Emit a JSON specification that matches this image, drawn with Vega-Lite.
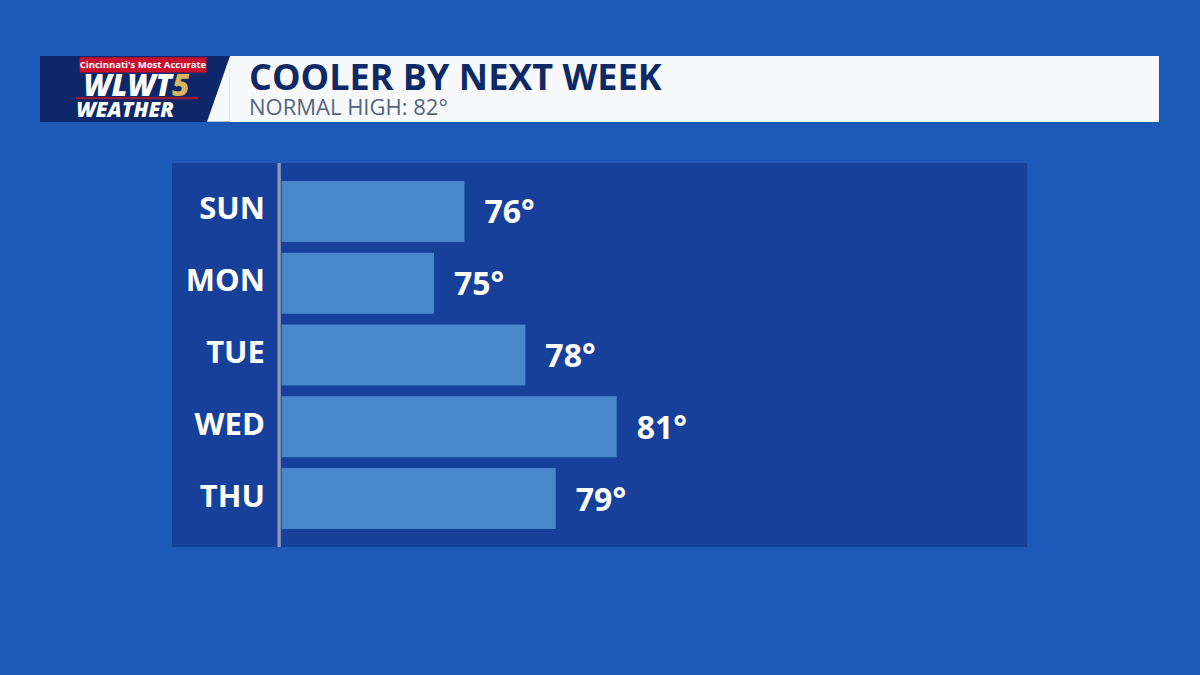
{
  "$schema": "https://vega.github.io/schema/vega-lite/v6.json",
  "background": "#1d5ab8",
  "padding": {"left": 40, "top": 56, "right": 41, "bottom": 128},
  "autosize": {"type": "pad"},
  "config": {"view": {"stroke": null}},
  "spacing": 41,
  "center": true,
  "vconcat": [
    {
      "spacing": 0,
      "hconcat": [
        {
          "width": 190,
          "height": 66,
          "view": {"fill": "#0d2768", "stroke": null},
          "data": {"values": [
            {"piece": "banner", "label": "Cincinnati's Most Accurate"},
            {"piece": "call", "label": "WLWT"},
            {"piece": "num", "label": "5"},
            {"piece": "wx", "label": "WEATHER"}
          ]},
          "layer": [
            {
              "transform": [{"filter": "datum.piece === 'banner'"}],
              "mark": {"type": "point", "filled": true, "opacity": 1, "size": 16129, "color": "#f8f9fb", "strokeWidth": 0, "shape": "M1.495,-0.515L1.495,0.515L1.134,0.515Z"},
              "encoding": {}
            },
            {
              "transform": [{"filter": "datum.piece === 'banner'"}],
              "mark": {"type": "point", "filled": true, "opacity": 1, "size": 16129, "color": "#c8102e", "strokeWidth": 0, "shape": "M-0.874,-0.5H1.126V-0.26H-0.874Z"},
              "encoding": {}
            },
            {
              "transform": [{"filter": "datum.piece === 'banner'"}],
              "mark": {"type": "point", "filled": true, "opacity": 1, "size": 16129, "color": "#9c1a30", "strokeWidth": 0, "shape": "M-0.93,0.125H1.0V0.16H-0.93Z"},
              "encoding": {}
            },
            {
              "transform": [{"filter": "datum.piece === 'banner'"}],
              "mark": {"type": "text", "font": "Open Sans", "fontWeight": "bold", "fontSize": 9.5, "fill": "white", "dx": 8, "dy": -24.5},
              "encoding": {"text": {"field": "label"}}
            },
            {
              "transform": [{"filter": "datum.piece === 'call'"}],
              "mark": {"type": "text", "font": "Open Sans", "fontWeight": 800, "fontStyle": "italic", "fontSize": 30, "fill": "white", "align": "right", "dx": 37, "dy": -2},
              "encoding": {"text": {"field": "label"}}
            },
            {
              "transform": [{"filter": "datum.piece === 'num'"}],
              "mark": {"type": "text", "font": "Open Sans", "fontWeight": 800, "fontStyle": "italic", "fontSize": 30, "fill": "#d8b562", "align": "left", "dx": 37, "dy": -2},
              "encoding": {"text": {"field": "label"}}
            },
            {
              "transform": [{"filter": "datum.piece === 'wx'"}],
              "mark": {"type": "text", "font": "Open Sans", "fontWeight": 800, "fontStyle": "italic", "fontSize": 21, "fill": "white", "dx": -10, "dy": 21.5},
              "encoding": {"text": {"field": "label"}}
            }
          ]
        },
        {
          "width": 929,
          "height": 66,
          "data": {"values": [{"part": "header"}]},
          "title": {
            "text": "COOLER BY NEXT WEEK",
            "subtitle": "NORMAL HIGH: 82°",
            "anchor": "start",
            "frame": "group",
            "orient": "top",
            "dx": 19,
            "offset": -63.5,
            "font": "Open Sans",
            "fontSize": 36,
            "fontWeight": "bold",
            "color": "#0d2a66",
            "subtitleFont": "Open Sans",
            "subtitleFontSize": 22,
            "subtitleColor": "#55647b",
            "subtitlePadding": 0
          },
          "mark": {"type": "rect", "color": "#f8f9fb"},
          "encoding": {}
        }
      ]
    },
    {
      "width": 855,
      "height": 384,
      "view": {"fill": "#16409a", "stroke": null},
      "data": {"values": [
        {"day": "SUN", "high": 76, "label": "76°"},
        {"day": "MON", "high": 75, "label": "75°"},
        {"day": "TUE", "high": 78, "label": "78°"},
        {"day": "WED", "high": 81, "label": "81°"},
        {"day": "THU", "high": 79, "label": "79°"}
      ]},
      "layer": [
        {
          "mark": {"type": "rect", "color": "#8e99ad"},
          "encoding": {
            "x": {"datum": 69.875, "type": "quantitative", "scale": {"domain": [66.4, 94.47], "nice": false, "zero": false}, "axis": null},
            "x2": {"datum": 69.955}
          }
        },
        {
          "mark": {"type": "bar", "color": "#4a86cc"},
          "encoding": {
            "y": {"field": "day", "type": "nominal", "sort": null, "axis": null, "scale": {"paddingInner": 0.15, "paddingOuter": 0.25}},
            "x": {"field": "high", "type": "quantitative", "scale": {"domain": [66.4, 94.47], "nice": false, "zero": false}, "axis": null},
            "x2": {"datum": 70}
          }
        },
        {
          "mark": {"type": "text", "align": "left", "baseline": "middle", "dx": 20, "dy": 2, "font": "Open Sans", "fontWeight": "bold", "fontSize": 32, "color": "white"},
          "encoding": {
            "y": {"field": "day", "type": "nominal", "sort": null, "axis": null},
            "x": {"field": "high", "type": "quantitative", "scale": {"domain": [66.4, 94.47], "nice": false, "zero": false}, "axis": null},
            "text": {"field": "label"}
          }
        },
        {
          "mark": {"type": "text", "align": "right", "baseline": "middle", "dy": -1, "font": "Open Sans", "fontWeight": "bold", "fontSize": 31, "color": "white"},
          "encoding": {
            "y": {"field": "day", "type": "nominal", "sort": null, "axis": null},
            "x": {"datum": 69.45, "type": "quantitative", "scale": {"domain": [66.4, 94.47], "nice": false, "zero": false}, "axis": null},
            "text": {"field": "day"}
          }
        }
      ]
    }
  ]
}
